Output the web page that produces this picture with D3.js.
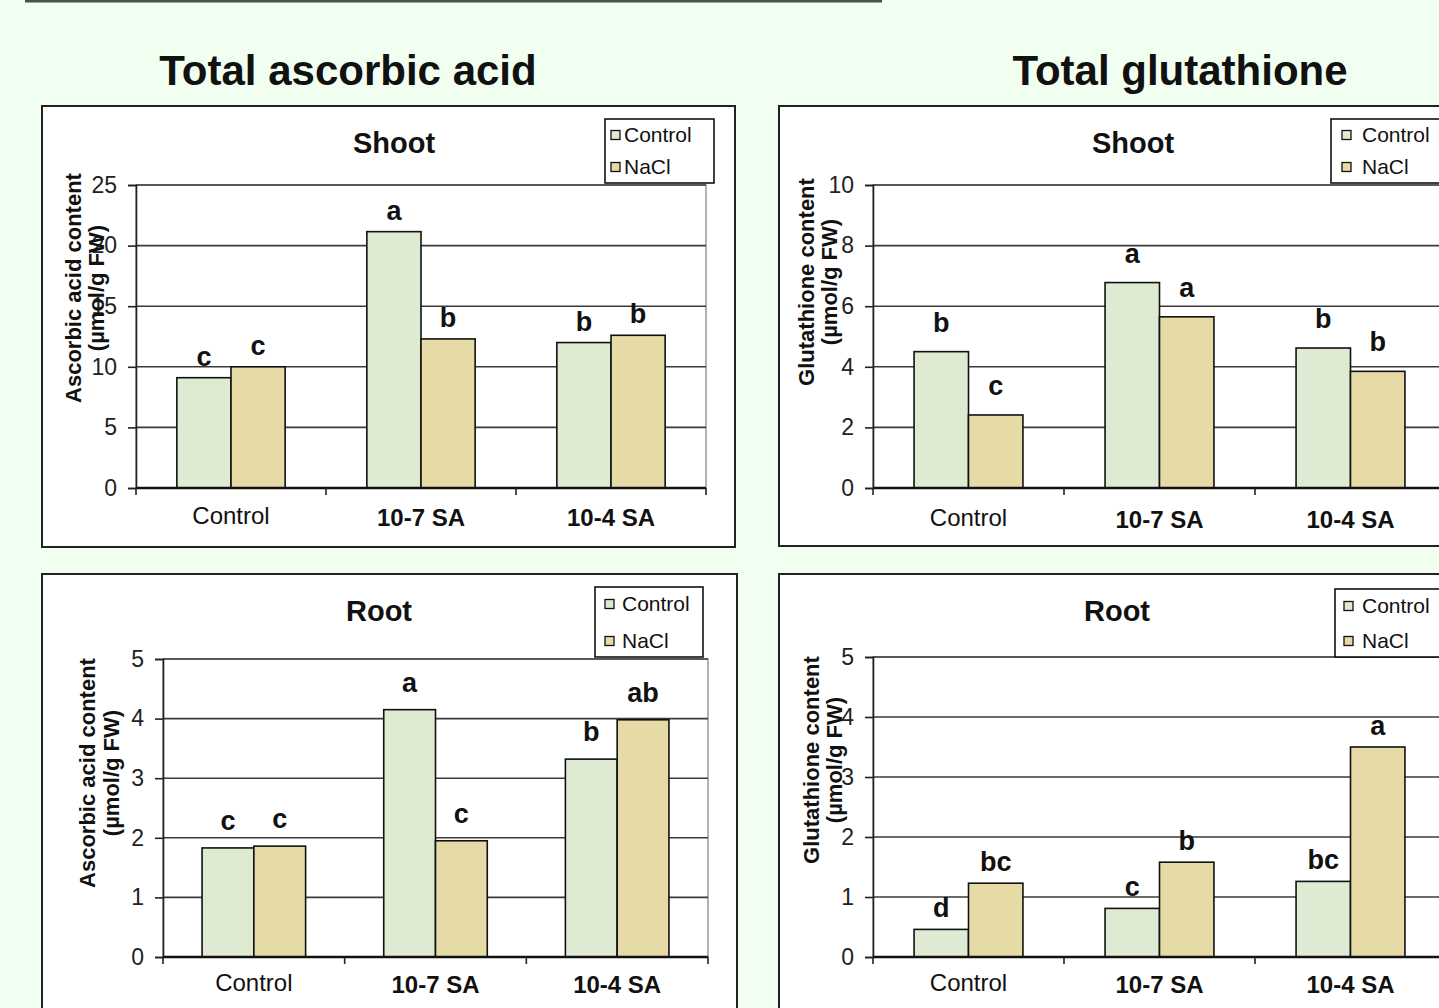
<!DOCTYPE html>
<html>
<head>
<meta charset="utf-8">
<script src="https://cdn.jsdelivr.net/npm/d3@7"></script>
<style>
  html, body { margin: 0; padding: 0; background: #f1fff1; }
  svg { display: block; font-family: "Liberation Sans", Arial, sans-serif; }
</style>
</head>
<body>
<svg id="slide" width="1439" height="1008"></svg>
<script>
// Treatments on the x axis and the two growth conditions
const categories = ["Control", "10-7 SA", "10-4 SA"];
const seriesNames = ["Control", "NaCl"];

// Total ascorbic acid, shoot (µmol/g FW)
const ascShootControl = [9.1, 21.15, 12.0];
const ascShootNaCl = [10.0, 12.3, 12.6];
const ascShootLetters = [["c", "a", "b"], ["c", "b", "b"]];

// Total glutathione, shoot (µmol/g FW)
const gshShootControl = [4.5, 6.78, 4.62];
const gshShootNaCl = [2.41, 5.65, 3.85];
const gshShootLetters = [["b", "a", "b"], ["c", "a", "b"]];

// Total ascorbic acid, root (µmol/g FW)
const ascRootControl = [1.83, 4.15, 3.32];
const ascRootNaCl = [1.86, 1.95, 3.98];
const ascRootLetters = [["c", "a", "b"], ["c", "c", "ab"]];

// Total glutathione, root (µmol/g FW)
const gshRootControl = [0.46, 0.81, 1.26];
const gshRootNaCl = [1.23, 1.58, 3.5];
const gshRootLetters = [["d", "c", "bc"], ["bc", "b", "a"]];

// y-axis tick values
const ascShootTicks = [0, 5, 10, 15, 20, 25];
const gshShootTicks = [0, 2, 4, 6, 8, 10];
const rootTicks = [0, 1, 2, 3, 4, 5];

const seriesColors = ["#dfead2", "#e6daa6"];
const svg = d3.select("#slide");

// thin rule across the top of the slide
svg.append("line")
  .attr("x1", 25).attr("x2", 882).attr("y1", 1).attr("y2", 1)
  .attr("stroke", "#4a4f4a").attr("stroke-width", 3);

// column headings
svg.append("text").attr("x", 348).attr("y", 85).attr("text-anchor", "middle")
  .attr("font-size", 42).attr("font-weight", "bold").attr("fill", "#111")
  .text("Total ascorbic acid");
svg.append("text").attr("x", 1180).attr("y", 85).attr("text-anchor", "middle")
  .attr("font-size", 42).attr("font-weight", "bold").attr("fill", "#111")
  .text("Total glutathione");

const charts = [
  {
    title: "Shoot", yTitle: ["Ascorbic acid content", "(µmol/g FW)"],
    values: [ascShootControl, ascShootNaCl], letters: ascShootLetters, ticks: ascShootTicks,
    panel: { x: 42, y: 106, w: 693, h: 441 },
    plot: { x: 136, y: 185, w: 570, h: 303 },
    legend: { x: 605, y: 119, w: 109, h: 64, rows: [16, 48], sw: 6, tx: 19 },
    titleXY: [394, 153], yTitleXY: [73, 96, 288], xLabelY: 526, letterGap: 12
  },
  {
    title: "Shoot", yTitle: ["Glutathione content", "(µmol/g FW)"],
    values: [gshShootControl, gshShootNaCl], letters: gshShootLetters, ticks: gshShootTicks,
    panel: { x: 779, y: 106, w: 700, h: 440 },
    plot: { x: 873, y: 185, w: 573, h: 303 },
    legend: { x: 1331, y: 119, w: 130, h: 64, rows: [16, 48], sw: 11, tx: 31 },
    titleXY: [1133, 153], yTitleXY: [806, 829, 282], xLabelY: 528, letterGap: 20
  },
  {
    title: "Root", yTitle: ["Ascorbic acid content", "(µmol/g FW)"],
    values: [ascRootControl, ascRootNaCl], letters: ascRootLetters, ticks: rootTicks,
    panel: { x: 42, y: 574, w: 695, h: 460 },
    plot: { x: 163, y: 659, w: 545, h: 298 },
    legend: { x: 595, y: 587, w: 108, h: 70, rows: [17, 54], sw: 10, tx: 27 },
    titleXY: [379, 621], yTitleXY: [87, 111, 773], xLabelY: 993, letterGap: 18
  },
  {
    title: "Root", yTitle: ["Glutathione content", "(µmol/g FW)"],
    values: [gshRootControl, gshRootNaCl], letters: gshRootLetters, ticks: rootTicks,
    panel: { x: 779, y: 574, w: 700, h: 460 },
    plot: { x: 873, y: 657, w: 573, h: 300 },
    legend: { x: 1335, y: 589, w: 120, h: 68, rows: [17, 52], sw: 9, tx: 27 },
    titleXY: [1117, 621], yTitleXY: [811, 834, 760], xLabelY: 993, letterGap: 12
  }
];

charts.forEach(drawChart);

function drawChart(c) {
  const g = svg.append("g");
  const p = c.plot;

  // white chart panel
  g.append("rect")
    .attr("x", c.panel.x).attr("y", c.panel.y)
    .attr("width", c.panel.w).attr("height", c.panel.h)
    .attr("fill", "#fff").attr("stroke", "#222").attr("stroke-width", 2);

  const yMax = c.ticks[c.ticks.length - 1];
  const y = d3.scaleLinear().domain([0, yMax]).range([p.y + p.h, p.y]);
  const x0 = d3.scaleBand().domain(categories).range([p.x, p.x + p.w])
    .paddingInner(0.43).paddingOuter(0.215);
  const x1 = d3.scaleBand().domain(seriesNames).range([0, x0.bandwidth()]);

  // plot area outline (light) and horizontal gridlines
  g.append("rect")
    .attr("x", p.x).attr("y", p.y).attr("width", p.w).attr("height", p.h)
    .attr("fill", "none").attr("stroke", "#9a9a9a").attr("stroke-width", 1.5);
  g.selectAll(".grid").data(c.ticks.filter(t => t > 0)).join("line")
    .attr("x1", p.x).attr("x2", p.x + p.w)
    .attr("y1", d => y(d)).attr("y2", d => y(d))
    .attr("stroke", "#3a3a3a").attr("stroke-width", 1.6);

  // y axis
  const yAxis = d3.axisLeft(y).tickValues(c.ticks).tickFormat(d3.format("d"))
    .tickSize(8).tickPadding(11);
  const ya = g.append("g").attr("transform", `translate(${p.x},0)`).call(yAxis);
  ya.attr("font-size", 23).attr("font-family", "'Liberation Sans', Arial, sans-serif");
  ya.select(".domain").attr("stroke", "#222").attr("stroke-width", 1.6);
  ya.selectAll(".tick line").attr("stroke", "#222").attr("stroke-width", 1.6);
  ya.selectAll(".tick text").attr("fill", "#222");

  // bars
  const rows = [];
  categories.forEach((cat, i) => {
    seriesNames.forEach((s, j) => {
      rows.push({ cat, s, j, v: c.values[j][i], letter: c.letters[j][i] });
    });
  });
  g.selectAll(".bar").data(rows).join("rect")
    .attr("x", d => x0(d.cat) + x1(d.s))
    .attr("y", d => y(d.v))
    .attr("width", x1.bandwidth())
    .attr("height", d => y(0) - y(d.v))
    .attr("fill", d => seriesColors[d.j])
    .attr("stroke", "#111").attr("stroke-width", 1.6);

  // significance letters
  g.selectAll(".letter").data(rows).join("text")
    .attr("x", d => x0(d.cat) + x1(d.s) + x1.bandwidth() / 2)
    .attr("y", d => y(d.v) - c.letterGap)
    .attr("text-anchor", "middle")
    .attr("font-size", 27).attr("font-weight", "bold").attr("fill", "#111")
    .text(d => d.letter);

  // x axis with ticks at the category boundaries
  const xa = g.append("g").attr("transform", `translate(0,${p.y + p.h})`);
  xa.append("line").attr("x1", p.x).attr("x2", p.x + p.w)
    .attr("stroke", "#111").attr("stroke-width", 2.4);
  const bounds = d3.range(categories.length + 1).map(i => p.x + i * p.w / categories.length);
  xa.selectAll(".xt").data(bounds).join("line")
    .attr("x1", d => d).attr("x2", d => d).attr("y1", 0).attr("y2", 7)
    .attr("stroke", "#222").attr("stroke-width", 1.6);
  g.selectAll(".xl").data(categories).join("text")
    .attr("x", d => x0(d) + x0.bandwidth() / 2)
    .attr("y", (d, i) => c.xLabelY + (i === 0 ? -2 : 0))
    .attr("text-anchor", "middle")
    .attr("font-size", 24)
    .attr("font-weight", (d, i) => i === 0 ? "normal" : "bold")
    .attr("fill", "#111")
    .text(d => d);

  // chart title
  g.append("text").attr("x", c.titleXY[0]).attr("y", c.titleXY[1])
    .attr("text-anchor", "middle").attr("font-size", 29).attr("font-weight", "bold")
    .attr("fill", "#111").text(c.title);

  // rotated y-axis title on two lines
  c.yTitle.forEach((line, k) => {
    const tx = c.yTitleXY[k], ty = c.yTitleXY[2];
    g.append("text")
      .attr("transform", `translate(${tx},${ty}) rotate(-90)`)
      .attr("text-anchor", "middle").attr("dy", "0.35em")
      .attr("font-size", 22).attr("font-weight", "bold").attr("fill", "#111")
      .text(line);
  });

  // legend
  const L = c.legend;
  const lg = g.append("g");
  lg.append("rect").attr("x", L.x).attr("y", L.y).attr("width", L.w).attr("height", L.h)
    .attr("fill", "#fff").attr("stroke", "#111").attr("stroke-width", 1.6);
  seriesNames.forEach((s, j) => {
    const cy = L.y + L.rows[j];
    lg.append("rect").attr("x", L.x + L.sw).attr("y", cy - 4.5).attr("width", 9).attr("height", 9)
      .attr("fill", seriesColors[j]).attr("stroke", "#111").attr("stroke-width", 1.3);
    lg.append("text").attr("x", L.x + L.tx).attr("y", cy).attr("dy", "0.35em")
      .attr("font-size", 21).attr("fill", "#111").text(s);
  });
}
</script>
</body>
</html>
